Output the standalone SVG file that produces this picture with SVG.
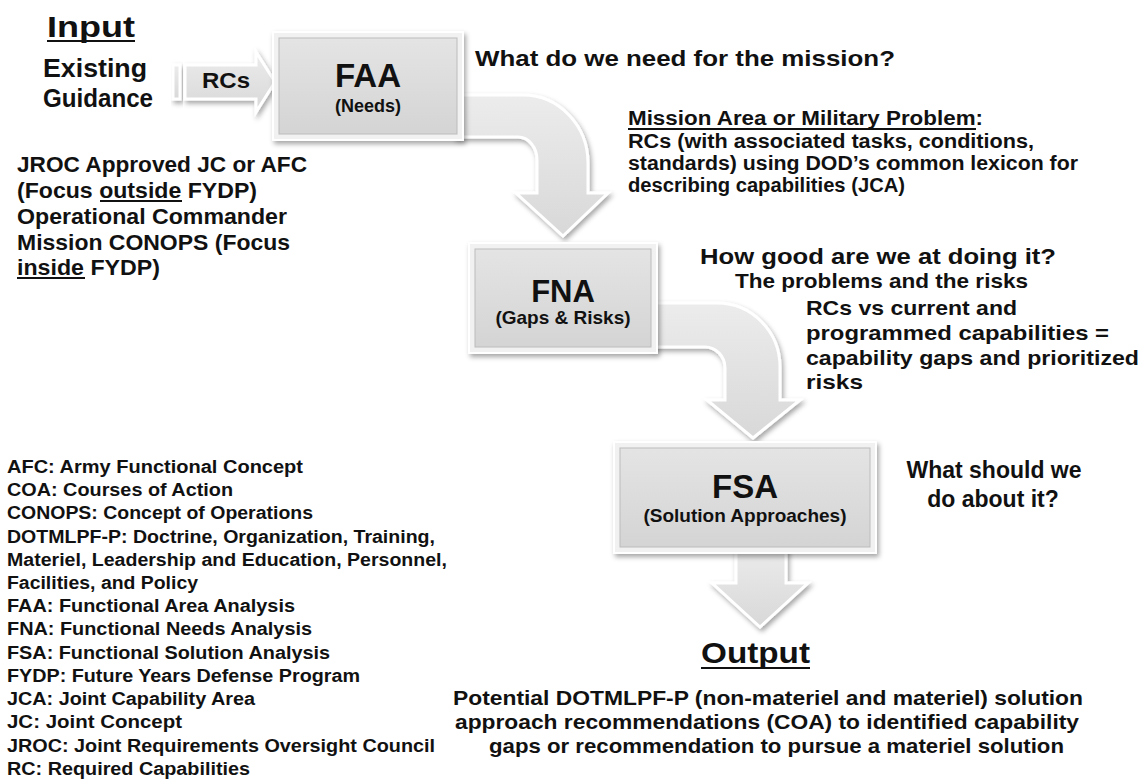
<svg xmlns="http://www.w3.org/2000/svg" width="1140" height="780" viewBox="0 0 1140 780">
<style>
.t{font-family:"Liberation Sans",Arial,sans-serif;font-weight:bold;fill:#111}
.arrow{fill:url(#agrad);stroke:#fff;stroke-width:3;stroke-linejoin:miter;filter:url(#shadow)}
.frame{fill:#f1f1f1;stroke:#fff;stroke-width:2;filter:url(#shadow)}
.face{fill:url(#fgrad);stroke:#bcbcbc;stroke-width:1}
.ul{stroke:#111;stroke-width:2.2}
.g{font-size:18px}
</style>
<defs>
<linearGradient id="agrad" x1="0" y1="0" x2="0" y2="1">
<stop offset="0" stop-color="#ececec"/><stop offset="1" stop-color="#d8d8d8"/>
</linearGradient>
<linearGradient id="fgrad" x1="0" y1="0" x2="0" y2="1">
<stop offset="0" stop-color="#e4e4e4"/><stop offset="1" stop-color="#d4d4d4"/>
</linearGradient>
<filter id="shadow" x="-20%" y="-20%" width="150%" height="150%">
<feDropShadow dx="2" dy="3" stdDeviation="2.5" flood-color="#000" flood-opacity="0.35"/>
</filter>
</defs>
<rect width="1140" height="780" fill="#fff"/>

<g id="connectors">
<rect class="arrow" x="173" y="65" width="7" height="34"/>
<path class="arrow" d="M185 65 L256 65 L256 52 L275 82 L256 112 L256 99 L185 99 Z"/>
<path class="arrow" d="M455 95 L523 95 A65 68 0 0 1 588 163 L588 193 L608 193 L563 236 L516 193 L537 193 L537 160 A19 23 0 0 0 518 137 L455 137 Z"/>
<path class="arrow" d="M650 303 L717 303 A63 64 0 0 1 780 367 L780 400 L800 400 L753 438 L707 400 L725 400 L725 368 A20 21 0 0 0 705 347 L650 347 Z"/>
<path class="arrow" d="M736 545 L786 545 L786 583 L808 583 L760 627 L712 583 L736 583 Z"/>
<text class="t" x="202" y="88" font-size="22" textLength="48" lengthAdjust="spacingAndGlyphs">RCs</text>
</g>

<g id="input">
<text class="t" x="47" y="37" font-size="30" textLength="88" lengthAdjust="spacingAndGlyphs">Input</text>
<line class="ul" x1="47" y1="41" x2="135" y2="41"/>
<text class="t" x="43" y="77" font-size="25" textLength="104" lengthAdjust="spacingAndGlyphs">Existing</text>
<text class="t" x="43" y="107" font-size="25" textLength="110" lengthAdjust="spacingAndGlyphs">Guidance</text>
</g>

<g id="input-notes">
<text class="t" x="17" y="172" font-size="22.5" textLength="290" lengthAdjust="spacingAndGlyphs">JROC Approved JC or AFC</text>
<text class="t" x="17" y="198" font-size="22.5" textLength="240" lengthAdjust="spacingAndGlyphs">(Focus outside FYDP)</text>
<line class="ul" x1="100" y1="201" x2="182" y2="201"/>
<text class="t" x="17" y="224" font-size="22.5" textLength="270" lengthAdjust="spacingAndGlyphs">Operational Commander</text>
<text class="t" x="17" y="250" font-size="22.5" textLength="273" lengthAdjust="spacingAndGlyphs">Mission CONOPS (Focus</text>
<text class="t" x="17" y="275" font-size="22.5" textLength="143" lengthAdjust="spacingAndGlyphs">inside FYDP)</text>
<line class="ul" x1="17" y1="278" x2="85" y2="278"/>
</g>

<g id="faa">
<rect class="frame" x="273" y="32" width="190" height="108"/>
<rect class="face" x="279" y="38" width="178" height="96"/>
<text class="t" x="368" y="87" font-size="33" text-anchor="middle">FAA</text>
<text class="t" x="368" y="112" font-size="18" text-anchor="middle">(Needs)</text>
</g>

<g id="fna">
<rect class="frame" x="469" y="243" width="188" height="110"/>
<rect class="face" x="475" y="249" width="176" height="98"/>
<text class="t" x="563" y="302" font-size="31" text-anchor="middle">FNA</text>
<text class="t" x="563" y="324" font-size="19" text-anchor="middle">(Gaps &amp; Risks)</text>
</g>

<g id="fsa">
<rect class="frame" x="614" y="442" width="262" height="111"/>
<rect class="face" x="620" y="448" width="250" height="99"/>
<text class="t" x="745" y="498" font-size="33" text-anchor="middle">FSA</text>
<text class="t" x="745" y="522" font-size="19" text-anchor="middle">(Solution Approaches)</text>
</g>

<g id="faa-notes">
<text class="t" x="475" y="66" font-size="22" textLength="420" lengthAdjust="spacingAndGlyphs">What do we  need for the mission?</text>
<text class="t" x="628" y="125" font-size="20" textLength="355" lengthAdjust="spacingAndGlyphs">Mission Area or Military Problem:</text>
<line class="ul" x1="628" y1="129" x2="976" y2="129"/>
<text class="t" x="628" y="148" font-size="20" textLength="406" lengthAdjust="spacingAndGlyphs">RCs (with associated tasks, conditions,</text>
<text class="t" x="628" y="170" font-size="20" textLength="450" lengthAdjust="spacingAndGlyphs">standards) using DOD’s common lexicon for</text>
<text class="t" x="628" y="192" font-size="20" textLength="277" lengthAdjust="spacingAndGlyphs">describing capabilities (JCA)</text>
</g>

<g id="fna-notes">
<text class="t" x="700" y="264" font-size="22" textLength="356" lengthAdjust="spacingAndGlyphs">How  good are we at doing it?</text>
<text class="t" x="735" y="288" font-size="21" textLength="293" lengthAdjust="spacingAndGlyphs">The problems and the risks</text>
<text class="t" x="806" y="315" font-size="21" textLength="211" lengthAdjust="spacingAndGlyphs">RCs vs current and</text>
<text class="t" x="806" y="340" font-size="21" textLength="303" lengthAdjust="spacingAndGlyphs">programmed capabilities =</text>
<text class="t" x="806" y="365" font-size="21" textLength="333" lengthAdjust="spacingAndGlyphs">capability gaps and prioritized</text>
<text class="t" x="806" y="389" font-size="21" textLength="57" lengthAdjust="spacingAndGlyphs">risks</text>
</g>

<g id="fsa-notes">
<text class="t" x="994" y="478" font-size="23" text-anchor="middle">What should we</text>
<text class="t" x="993" y="507" font-size="23" text-anchor="middle">do about it?</text>
</g>

<g id="output">
<text class="t" x="701" y="663" font-size="30" textLength="109" lengthAdjust="spacingAndGlyphs">Output</text>
<line class="ul" x1="701" y1="668" x2="810" y2="668"/>
<text class="t" x="453" y="705" font-size="21" textLength="630" lengthAdjust="spacingAndGlyphs">Potential DOTMLPF-P (non-materiel and materiel) solution</text>
<text class="t" x="455" y="729" font-size="21" textLength="624" lengthAdjust="spacingAndGlyphs">approach recommendations (COA) to identified capability</text>
<text class="t" x="489" y="753" font-size="21" textLength="575" lengthAdjust="spacingAndGlyphs">gaps or recommendation to pursue a materiel solution</text>
</g>

<g id="glossary">
<text class="t g" x="7" y="473" textLength="296" lengthAdjust="spacingAndGlyphs">AFC:  Army Functional Concept</text>
<text class="t g" x="7" y="496" textLength="226" lengthAdjust="spacingAndGlyphs">COA:  Courses of Action</text>
<text class="t g" x="7" y="519" textLength="306" lengthAdjust="spacingAndGlyphs">CONOPS: Concept of Operations</text>
<text class="t g" x="7" y="543" textLength="428" lengthAdjust="spacingAndGlyphs">DOTMLPF-P: Doctrine, Organization, Training,</text>
<text class="t g" x="7" y="566" textLength="440" lengthAdjust="spacingAndGlyphs">Materiel, Leadership and Education, Personnel,</text>
<text class="t g" x="7" y="589" textLength="191" lengthAdjust="spacingAndGlyphs">Facilities, and Policy</text>
<text class="t g" x="7" y="612" textLength="288" lengthAdjust="spacingAndGlyphs">FAA:  Functional Area Analysis</text>
<text class="t g" x="7" y="635" textLength="305" lengthAdjust="spacingAndGlyphs">FNA:  Functional Needs Analysis</text>
<text class="t g" x="7" y="659" textLength="323" lengthAdjust="spacingAndGlyphs">FSA:  Functional Solution Analysis</text>
<text class="t g" x="7" y="682" textLength="353" lengthAdjust="spacingAndGlyphs">FYDP:  Future Years Defense Program</text>
<text class="t g" x="7" y="705" textLength="248" lengthAdjust="spacingAndGlyphs">JCA:  Joint Capability Area</text>
<text class="t g" x="7" y="728" textLength="175" lengthAdjust="spacingAndGlyphs">JC:  Joint Concept</text>
<text class="t g" x="7" y="752" textLength="428" lengthAdjust="spacingAndGlyphs">JROC:  Joint Requirements Oversight Council</text>
<text class="t g" x="7" y="775" textLength="243" lengthAdjust="spacingAndGlyphs">RC:  Required Capabilities</text>
</g>
</svg>
